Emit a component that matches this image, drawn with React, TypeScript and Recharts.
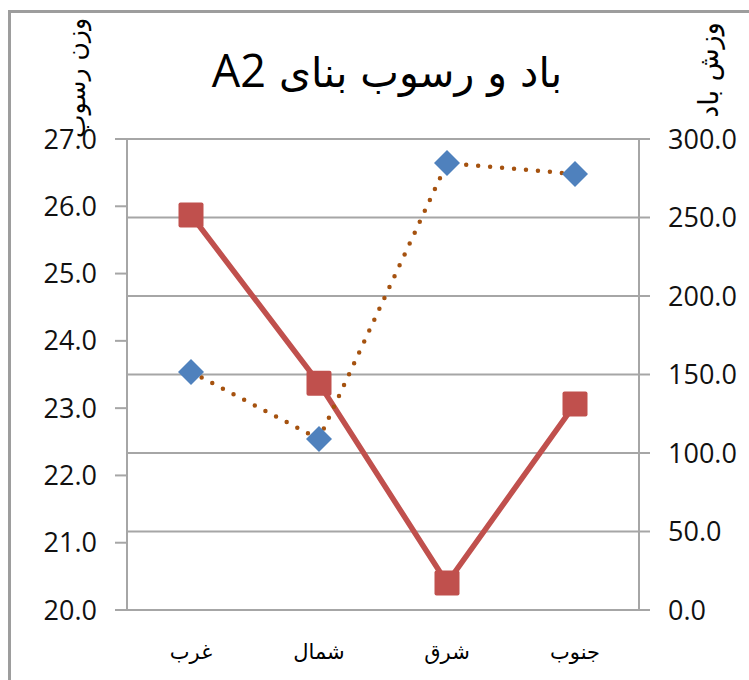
import React from 'react';
import { ComposedChart, Line, XAxis, YAxis, CartesianGrid } from 'recharts';

const categories = ['غرب', 'شمال', 'شرق', 'جنوب'];
const sediment = [25.87, 23.37, 20.4, 23.06];
const wind = [151.6, 108.9, 284.7, 277.7];
const leftTicks = [20, 21, 22, 23, 24, 25, 26, 27];
const rightTicks = [0, 50, 100, 150, 200, 250, 300];
const boundaryTicks = [0, 1, 2, 3, 4];

const titleArabic = 'باد و رسوب بنای ';
const titleLatin = 'A2';
const leftLabel = 'وزن رسوب';
const rightLabel = 'وزش باد';

const data = categories.map((name, i) => ({
  name,
  pos: i + 0.5,
  sediment: sediment[i],
  wind: wind[i],
}));

const AXIS = '#a6a6a6';
const NUM_FONT = "'Open Sans', 'DejaVu Sans', sans-serif";
const AR_FONT = "'DejaVu Sans', sans-serif";

const renderSquare = (props: any) => {
  const { cx, cy, index } = props;
  if (cx == null || cy == null) return <g key={`s-${index}`} />;
  const s = 25;
  return (
    <rect
      key={`s-${index}`}
      x={cx - s / 2}
      y={cy - s / 2}
      width={s}
      height={s}
      rx={2}
      fill="#C0504D"
    />
  );
};

const renderDiamond = (props: any) => {
  const { cx, cy, index } = props;
  if (cx == null || cy == null) return <g key={`d-${index}`} />;
  const r = 13;
  return (
    <path
      key={`d-${index}`}
      d={`M${cx},${cy - r} L${cx + r},${cy} L${cx},${cy + r} L${cx - r},${cy} Z`}
      fill="#4F81BD"
    />
  );
};

export default function App() {
  return (
    <div style={{ position: 'fixed', left: 0, top: 0, width: 749, height: 680, background: '#fff', overflow: 'hidden' }}>
      <div
        style={{
          position: 'absolute',
          left: 8,
          top: 10,
          width: 900,
          height: 900,
          borderLeft: '3px solid #9d9d9d',
          borderTop: '3px solid #9d9d9d',
          boxSizing: 'border-box',
        }}
      />
      <div style={{ position: 'absolute', left: 0, top: 0 }}>
        <ComposedChart width={749} height={680} data={data} margin={{ top: 139, right: 0, bottom: 0, left: 0 }}>
          <CartesianGrid xAxisId="a_ticks" yAxisId="right" stroke={AXIS} strokeWidth={2} />
          <XAxis
            xAxisId="a_ticks"
            type="number"
            dataKey="pos"
            domain={[0, 4]}
            ticks={boundaryTicks}
            tick={false}
            tickSize={10}
            height={12}
            axisLine={{ stroke: AXIS, strokeWidth: 2 }}
            tickLine={{ stroke: AXIS, strokeWidth: 2 }}
          />
          <XAxis
            xAxisId="b_labels"
            type="category"
            dataKey="name"
            scale="band"
            axisLine={false}
            tickLine={false}
            tickSize={0}
            tickMargin={22}
            height={58}
            tick={{ fill: '#000', fontSize: 21, fontFamily: AR_FONT }}
          />
          <YAxis
            yAxisId="left"
            orientation="left"
            width={127}
            domain={[20, 27]}
            ticks={leftTicks}
            tickSize={12}
            tickMargin={18}
            tickFormatter={(v: number) => v.toFixed(1)}
            axisLine={{ stroke: AXIS, strokeWidth: 2 }}
            tickLine={{ stroke: AXIS, strokeWidth: 2 }}
            tick={{ fill: '#111', fontSize: 27, fontFamily: NUM_FONT }}
          />
          <YAxis
            yAxisId="right"
            orientation="right"
            width={110}
            domain={[0, 300]}
            ticks={rightTicks}
            tickSize={11}
            tickMargin={18}
            tickFormatter={(v: number) => v.toFixed(1)}
            axisLine={{ stroke: AXIS, strokeWidth: 2 }}
            tickLine={{ stroke: AXIS, strokeWidth: 2 }}
            tick={{ fill: '#111', fontSize: 27, fontFamily: NUM_FONT }}
          />
          <Line
            xAxisId="a_ticks"
            yAxisId="left"
            dataKey="sediment"
            stroke="#C0504D"
            strokeWidth={5.5}
            dot={renderSquare}
            activeDot={false}
            isAnimationActive={false}
          />
          <Line
            xAxisId="a_ticks"
            yAxisId="right"
            dataKey="wind"
            stroke="#A5520F"
            strokeWidth={4.5}
            strokeDasharray="0 12"
            strokeLinecap="round"
            dot={renderDiamond}
            activeDot={false}
            isAnimationActive={false}
          />
        </ComposedChart>
      </div>
      <svg width={749} height={680} style={{ position: 'absolute', left: 0, top: 0, pointerEvents: 'none' }}>
        <text x={387} y={87} textAnchor="middle" direction="rtl" fontFamily={NUM_FONT} fill="#000">
          <tspan fontSize={41} fontFamily={AR_FONT}>{titleArabic}</tspan>
          <tspan fontSize={45}>{titleLatin}</tspan>
        </text>
        <text
          transform="translate(76,78) rotate(-90)"
          textAnchor="middle"
          direction="rtl"
          dominantBaseline="central"
          fontSize={25}
          fontFamily={AR_FONT}
          fill="#000"
        >
          {leftLabel}
        </text>
        <text
          transform="translate(708,70) rotate(-90)"
          textAnchor="middle"
          direction="rtl"
          dominantBaseline="central"
          fontSize={27}
          fontFamily={AR_FONT}
          fill="#000"
        >
          {rightLabel}
        </text>
      </svg>
    </div>
  );
}
